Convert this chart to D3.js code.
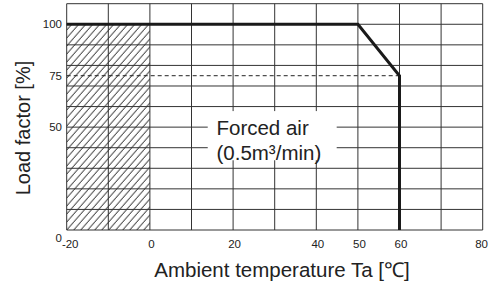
<!DOCTYPE html>
<html><head><meta charset="utf-8">
<script src="https://cdn.jsdelivr.net/npm/d3@7"></script>
<style>
html,body{margin:0;padding:0;background:#fff;}
svg{display:block;font-family:"Liberation Sans",Arial,sans-serif;}
</style></head>
<body>
<svg id="c" width="489" height="289"></svg>
<script>
// ---- data ----
const xTickLabels = [-20, 0, 20, 40, 50, 60, 80];
const yTickLabels = [0, 50, 75, 100];
const xGridValues = [-20, -10, 0, 10, 20, 30, 40, 50, 60, 70, 80];
const yGridValues = [0, 10, 20, 30, 40, 50, 60, 70, 80, 90, 100, 110];
const curveTemp = [-20, 50, 60, 60];
const curveLoad = [100, 100, 75, 0];
const refLoad = 75;            // dashed reference level
const refTempRange = [-20, 60];
const hatchTemp = [-20, 0];    // prohibited region
const hatchLoad = [0, 100];
const noteLines = ["Forced air", "(0.5m³/min)"];
const xTitle = "Ambient temperature Ta [℃]";
const yTitle = "Load factor [%]";

// ---- scales ----
const svg = d3.select("#c");
const x = d3.scaleLinear().domain([-20, 80]).range([66.7, 482.7]);
const y = d3.scaleLinear().domain([0, 110]).range([230, 3.7]);

// hatch pattern
const defs = svg.append("defs");
const pat = defs.append("pattern").attr("id", "hatch")
  .attr("patternUnits", "userSpaceOnUse").attr("width", 7).attr("height", 8)
  .attr("x", x(-20)).attr("y", y(0));
pat.append("path").attr("d", "M-1,1 l2,-2 M0,8 l7,-8 M6,9 l2,-2")
  .attr("stroke", "#111").attr("stroke-width", 1).attr("fill", "none");

svg.append("rect")
  .attr("x", x(hatchTemp[0])).attr("y", y(hatchLoad[1]))
  .attr("width", x(hatchTemp[1]) - x(hatchTemp[0]))
  .attr("height", y(hatchLoad[0]) - y(hatchLoad[1]))
  .attr("fill", "url(#hatch)");

// grid
const grid = svg.append("g").attr("stroke", "#333").attr("stroke-width", 1);
grid.selectAll("line.v").data(xGridValues).join("line").attr("class", "v")
  .attr("x1", d => x(d)).attr("x2", d => x(d))
  .attr("y1", y(0)).attr("y2", y(110));
grid.selectAll("line.h").data(yGridValues).join("line").attr("class", "h")
  .attr("x1", x(-20)).attr("x2", x(80))
  .attr("y1", d => y(d)).attr("y2", d => y(d));

// dashed reference line
svg.append("line")
  .attr("x1", x(refTempRange[0])).attr("x2", x(refTempRange[1]))
  .attr("y1", y(refLoad)).attr("y2", y(refLoad))
  .attr("stroke", "#222").attr("stroke-width", 1).attr("stroke-dasharray", "4,3");

// annotation background + text
svg.append("rect")
  .attr("x", x(13.9)).attr("y", y(57.8))
  .attr("width", x(44.9) - x(13.9)).attr("height", y(33.9) - y(57.8))
  .attr("fill", "#fff");
const note = svg.append("text").attr("x", x(16)).attr("y", y(46.3))
  .attr("font-size", 20.5).attr("fill", "#222");
note.selectAll("tspan").data(noteLines).join("tspan")
  .attr("x", x(16)).attr("dy", (d, i) => i ? 25 : 0).text(d => d);

// derating curve
const line = d3.line().x(d => x(d[0])).y(d => y(d[1]));
svg.append("path")
  .datum(curveTemp.map((t, i) => [t, curveLoad[i]]))
  .attr("d", line).attr("fill", "none")
  .attr("stroke", "#1a1a1a").attr("stroke-width", 3).attr("stroke-linejoin", "miter");

// tick labels
const lastX = xTickLabels[xTickLabels.length - 1];
svg.append("g").selectAll("text").data(xTickLabels).join("text")
  .attr("x", d => d === lastX ? Math.min(x(d) + 6, 488) : x(d) + (d < 0 ? 3.5 : 1.5))
  .attr("y", 248)
  .attr("text-anchor", d => d === lastX ? "end" : "middle")
  .attr("font-size", 11.5).attr("fill", "#222")
  .text(d => d);
svg.append("g").selectAll("text").data(yTickLabels).join("text")
  .attr("x", 62).attr("y", d => y(d) + (d === 0 ? 11.5 : 4))
  .attr("text-anchor", "end").attr("font-size", 11.5).attr("fill", "#222")
  .text(d => d);

// axis titles
svg.append("text").attr("x", 282).attr("y", 277)
  .attr("text-anchor", "middle").attr("font-size", 20.5).attr("fill", "#222")
  .text(xTitle);
svg.append("text").attr("transform", "translate(30,128) rotate(-90)")
  .attr("text-anchor", "middle").attr("font-size", 20).attr("fill", "#222")
  .text(yTitle);
</script>
</body></html>
